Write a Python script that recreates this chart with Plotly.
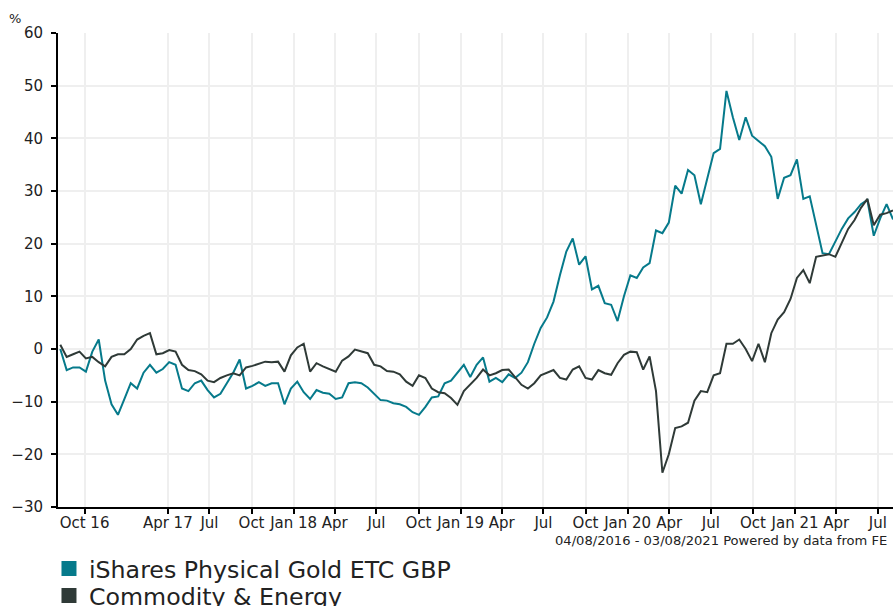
import pandas as pd
import plotly.graph_objects as go

# ---- data ----
dates = pd.date_range("2016-08-09", periods=131, freq="14D")

gold = [
    0.0, -4.0, -3.5, -3.5, -4.3, -0.5, 1.8, -6.0, -10.5, -12.5,
    -9.5, -6.5, -7.5, -4.5, -3.0, -4.5, -3.8, -2.5, -3.0, -7.5,
    -8.0, -6.5, -6.0, -7.8, -9.2, -8.5, -6.5, -4.5, -2.0, -7.5,
    -7.0, -6.3, -7.0, -6.5, -6.5, -10.5, -7.5, -6.2, -8.2, -9.5,
    -7.8, -8.3, -8.5, -9.5, -9.2, -6.5, -6.3, -6.5, -7.3, -8.5,
    -9.7, -9.8, -10.3, -10.5, -11.0, -12.0, -12.5, -11.0, -9.2, -9.0,
    -6.5, -6.0, -4.5, -3.0, -5.3, -3.0, -1.6, -6.2, -5.5, -6.3,
    -4.8, -5.5, -4.5, -2.5, 1.0, 4.0, 6.0, 9.0, 14.0, 18.5,
    21.0, 16.0, 17.6, 11.3, 12.0, 8.7, 8.4, 5.3, 10.0, 14.0,
    13.5, 15.5, 16.3, 22.5, 22.0, 24.0, 31.0, 29.5, 34.0, 33.0,
    27.5, 32.5, 37.2, 38.0, 49.0, 44.0, 39.7, 44.0, 40.5, 39.5,
    38.5, 36.5, 28.5, 32.5, 33.0, 36.0, 28.5, 29.0, 23.5, 18.2,
    18.0, 20.5, 22.8, 24.8, 26.0, 27.5, 28.3, 21.5, 24.8, 27.5,
    24.6,
]

commodity = [
    0.8, -1.5, -1.0, -0.5, -1.8, -1.5, -2.5, -3.3, -1.5, -1.0,
    -1.0, 0.0, 1.8, 2.5, 3.0, -1.0, -0.8, -0.2, -0.5, -3.0,
    -4.0, -4.2, -4.8, -6.0, -6.3, -5.5, -5.0, -4.6, -5.0, -3.5,
    -3.2, -2.8, -2.4, -2.5, -2.4, -4.3, -1.2, 0.3, 1.0, -4.3,
    -2.7, -3.3, -3.8, -4.3, -2.2, -1.4, -0.1, -0.5, -0.8, -3.0,
    -3.3, -4.2, -4.3, -4.8, -6.2, -7.0, -5.0, -5.5, -7.5, -8.2,
    -8.4, -9.3, -10.6, -8.0, -6.8, -5.5, -3.9, -5.0, -4.6, -4.0,
    -3.9, -5.3, -6.8, -7.5, -6.5, -5.0, -4.5, -4.0, -5.5, -5.8,
    -3.9, -3.3, -5.5, -5.8, -4.0, -4.6, -4.9, -2.7, -1.1, -0.5,
    -0.6, -3.9, -1.4, -8.0, -23.5, -20.0, -15.0, -14.7, -14.0, -9.8,
    -8.0, -8.2, -5.0, -4.6, 1.0, 1.0, 1.8, 0.0, -2.3, 1.0,
    -2.5, 3.0, 5.6, 7.0, 9.5, 13.5, 15.0, 12.5, 17.5, 17.8,
    18.0, 17.5, 20.0, 22.8, 24.5, 26.8, 28.5, 23.5, 25.5, 25.8,
    26.3,
]

series_names = ["iShares Physical Gold ETC GBP", "Commodity & Energy"]
series_colors = ["#067a8b", "#2f3a37"]

tick_dates = [
    "2016-10-01", "2017-04-01", "2017-07-01", "2017-10-01", "2018-01-01",
    "2018-04-01", "2018-07-01", "2018-10-01", "2019-01-01", "2019-04-01",
    "2019-07-01", "2019-10-01", "2020-01-01", "2020-04-01", "2020-07-01",
    "2020-10-01", "2021-01-01", "2021-04-01", "2021-07-01",
]
tick_labels = [
    "Oct 16", "Apr 17", "Jul", "Oct", "Jan 18", "Apr", "Jul", "Oct",
    "Jan 19", "Apr", "Jul", "Oct", "Jan 20", "Apr", "Jul", "Oct",
    "Jan 21", "Apr", "Jul",
]
y_ticks = [-30, -20, -10, 0, 10, 20, 30, 40, 50, 60]

caption = "04/08/2016 - 03/08/2021 Powered by data from FE"
FONT = "DejaVu Sans"
TXT = "#222222"

fig = go.Figure()
for name, vals, col in zip(series_names, [gold, commodity], series_colors):
    fig.add_trace(go.Scatter(
        x=dates, y=vals, mode="lines", name=name,
        line=dict(color=col, width=2), showlegend=False,
    ))
# legend entries with square swatches, one legend per row
for name, col, lg in zip(series_names, series_colors, ["legend", "legend2"]):
    fig.add_trace(go.Scatter(
        x=[None], y=[None], mode="markers", name=name,
        marker=dict(symbol="square", color=col, size=15),
        showlegend=True, legend=lg,
    ))

legend_common = dict(
    orientation="v", x=-0.0108, xanchor="left", yanchor="top",
    font=dict(family=FONT, size=23.7, color=TXT),
    bgcolor="rgba(0,0,0,0)",
)

fig.update_layout(
    width=893, height=606,
    margin=dict(l=58, r=0, t=33, b=99, autoexpand=False),
    paper_bgcolor="white", plot_bgcolor="white",
    font=dict(family=FONT, color=TXT, size=15),
    legend=dict(legend_common, y=-0.0833),
    legend2=dict(legend_common, y=-0.1403),
    xaxis=dict(
        type="date",
        range=["2016-08-04", "2021-08-03"],
        tickmode="array", tickvals=tick_dates, ticktext=tick_labels,
        showgrid=True, gridcolor="#efefef", gridwidth=2,
        showline=True, linecolor="black", linewidth=2,
        ticks="outside", ticklen=5, tickcolor="black", tickwidth=2,
        ticklabelstandoff=-4,
        tickfont=dict(family=FONT, size=15, color=TXT),
        zeroline=False, tickangle=0,
    ),
    yaxis=dict(
        range=[-30, 60], tickmode="array", tickvals=y_ticks,
        showgrid=True, gridcolor="#efefef", gridwidth=2,
        showline=True, linecolor="black", linewidth=2,
        ticks="outside", ticklen=5, tickcolor="black", tickwidth=2,
        ticklabelstandoff=5,
        tickfont=dict(family=FONT, size=15, color=TXT),
        zeroline=False,
    ),
    annotations=[
        dict(text="%", xref="paper", yref="paper", x=-0.0515, y=1.0316,
             xanchor="center", yanchor="middle", showarrow=False,
             font=dict(family=FONT, size=13, color=TXT)),
        dict(text=caption, xref="paper", yref="paper", x=0.9952, y=-0.0717,
             xanchor="right", yanchor="middle", showarrow=False,
             font=dict(family=FONT, size=13.1, color=TXT)),
    ],
)

fig.write_html(
    "out.html",
    config={"displayModeBar": False},
    post_script="document.body.style.margin='0';document.body.style.padding='0';",
)
